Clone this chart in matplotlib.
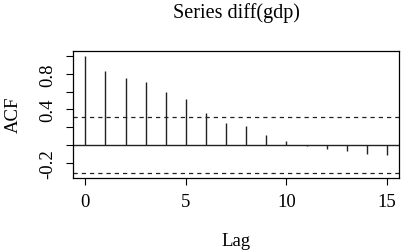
import numpy as np
import matplotlib
matplotlib.use("Agg")
import matplotlib.pyplot as plt

plt.rcParams["font.family"] = ["Liberation Serif", "DejaVu Serif"]
plt.rcParams["axes.unicode_minus"] = False

# ── Data ───────────────────────────────────────────────────────────────────────
lags = np.arange(16)
acf_vals = [1.0, 0.831, 0.757, 0.704, 0.600, 0.513, 0.364, 0.252,
            0.210, 0.112, 0.042, -0.007, -0.045, -0.067, -0.097, -0.108]
conf_limit = 0.318
ytick_vals = [-0.2, 0.0, 0.2, 0.4, 0.6, 0.8, 1.0]
ytick_labels = ["-0.2", "", "", "0.4", "", "0.8", ""]
xtick_vals = [0, 5, 10, 15]

# ── Plot ───────────────────────────────────────────────────────────────────────
W, H = 401, 251
fig = plt.figure(figsize=(W / 100, H / 100), dpi=100)
ax = fig.add_axes([73.3 / W, 1 - 179 / H, (399 - 73.3) / W, (179 - 52.3) / H])

ax.vlines(lags, 0, acf_vals, color="#222222", lw=1.0)
ax.axhline(0, color="#222222", lw=1.0)
for y in (conf_limit, -conf_limit):
    ax.axhline(y, color="#222222", lw=0.9, ls=(0, (3.4, 3.2)))

lo = min(-conf_limit, min(acf_vals))
hi = max(acf_vals)
pad = 0.04 * (hi - lo)
ax.set_ylim(lo - pad, hi + pad)
ax.set_xlim(-0.04 * 15, 15 * 1.04)

ax.set_yticks(ytick_vals)
ax.set_yticklabels(ytick_labels, rotation=90, va="center")
ax.set_xticks(xtick_vals)
ax.tick_params(direction="out", length=5, width=0.8, labelsize=13.5)
ax.tick_params(axis="x", pad=6)
ax.tick_params(axis="y", pad=7)
for s in ax.spines.values():
    s.set_linewidth(0.9)

fig.text(236 / W, 1 - 13 / H, "Series diff(gdp)", fontsize=14.5,
         ha="center", va="center")
fig.text(236 / W, 4.5 / H, "Lag", fontsize=13.5, ha="center", va="baseline")
fig.text(13.3 / W, 1 - 115 / H, "ACF", fontsize=13.5, rotation=90,
         ha="center", va="center")

plt.savefig("out.png", dpi=100)
